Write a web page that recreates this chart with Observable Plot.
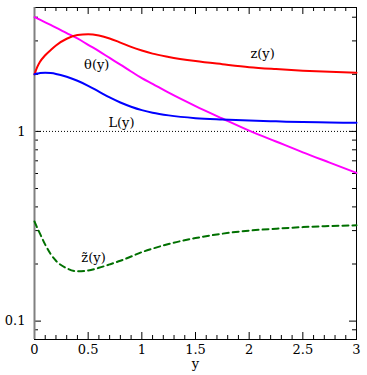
<!DOCTYPE html>
<html><head><meta charset="utf-8">
<script src="https://cdn.jsdelivr.net/npm/d3@7"></script>
<script src="https://cdn.jsdelivr.net/npm/@observablehq/plot@0.6"></script>
<style>body{margin:0;background:#fff}svg{display:block}</style>
</head><body><div id="chart"></div>
<script>
const xs     = [0, 0.025, 0.05, 0.1, 0.15, 0.2, 0.3, 0.4, 0.5, 0.6, 0.7, 0.8, 0.9, 1.0, 1.1, 1.25, 1.5, 1.75, 2.0, 2.25, 2.5, 2.75, 3.0];
const zVals  = [2.0, 2.18, 2.32, 2.52, 2.68, 2.84, 3.08, 3.22, 3.25, 3.2, 3.09, 2.94, 2.79, 2.67, 2.57, 2.47, 2.35, 2.26, 2.18, 2.13, 2.09, 2.06, 2.04];
const thVals = [4.0, 3.94, 3.88, 3.76, 3.64, 3.52, 3.30, 3.09, 2.86, 2.65, 2.44, 2.25, 2.07, 1.91, 1.78, 1.60, 1.36, 1.17, 1.01, 0.885, 0.776, 0.685, 0.605];
const LVals  = [2.0, 2.02, 2.03, 2.04, 2.03, 2.01, 1.94, 1.85, 1.74, 1.62, 1.51, 1.42, 1.35, 1.295, 1.255, 1.215, 1.175, 1.155, 1.14, 1.13, 1.12, 1.115, 1.11];
const ztVals = [0.335, 0.311, 0.29, 0.253, 0.226, 0.208, 0.19, 0.183, 0.185, 0.191, 0.199, 0.208, 0.219, 0.231, 0.241, 0.255, 0.274, 0.289, 0.3, 0.307, 0.313, 0.317, 0.32];

const xMajor = [0, 0.5, 1, 1.5, 2, 2.5, 3];
const xMinor = [0.1,0.2,0.3,0.4,0.6,0.7,0.8,0.9,1.1,1.2,1.3,1.4,1.6,1.7,1.8,1.9,2.1,2.2,2.3,2.4,2.6,2.7,2.8,2.9];
const xTickLabels = ["0", "0.5", "1", "1.5", "2", "2.5", "3"];
const yMajor = [0.1, 1];
const yMinor = [0.09, 0.2, 0.3, 0.4, 0.5, 0.6, 0.7, 0.8, 0.9, 2, 3, 4];
const yTickLabels = ["0.1", "1"];
const xLabel = "y";

const labels = [
  {x: 0.58, y: 2.24, text: "θ(y)"},
  {x: 0.81, y: 1.11, text: "L(y)"},
  {x: 2.125, y: 2.56, text: "z(y)"},
  {x: 0.55, y: 0.216, text: "z\u0303(y)"}
];

const mk = vals => xs.map((x, i) => ({x, y: vals[i]}));

const W = 367, H = 375, ML = 34, MR = 11, MT = 7, MB = 36;
const PW = W - ML - MR, PH = H - MT - MB;
const major = 7, minor = 4;
const font = "DejaVu Serif";

const line = (vals, opts) => Plot.line(mk(vals), {x: "x", y: "y", curve: "monotone-x", strokeWidth: 2, ...opts});

const chart = Plot.plot({
  width: W, height: H,
  marginLeft: ML, marginRight: MR, marginTop: MT, marginBottom: MB,
  style: {fontFamily: font, fontSize: "13px", background: "#fff", color: "#000"},
  x: {domain: [0, 3], axis: null},
  y: {type: "log", domain: [0.08, 4.5], axis: null},
  marks: [
    Plot.ruleY([1], {stroke: "#000", strokeWidth: 1, strokeDasharray: "1,2"}),
    Plot.tickX(xMajor, {x: d => d, insetTop: PH - major, stroke: "#000"}),
    Plot.tickX(xMinor, {x: d => d, insetTop: PH - minor, stroke: "#000"}),
    Plot.tickX(xMajor, {x: d => d, insetBottom: PH - major, stroke: "#000"}),
    Plot.tickX(xMinor, {x: d => d, insetBottom: PH - minor, stroke: "#000"}),
    Plot.tickY(yMajor, {y: d => d, insetRight: PW - major, stroke: "#000"}),
    Plot.tickY(yMinor, {y: d => d, insetRight: PW - minor, stroke: "#000"}),
    Plot.tickY(yMajor, {y: d => d, insetLeft: PW - major, stroke: "#000"}),
    Plot.tickY(yMinor, {y: d => d, insetLeft: PW - minor, stroke: "#000"}),
    Plot.frame({stroke: "#000"}),
    Plot.ruleX([0], {stroke: "#808080", strokeWidth: 2}),
    Plot.text(xMajor, {x: d => d, text: (d, i) => xTickLabels[i], frameAnchor: "bottom", dy: 10, lineAnchor: "middle", fontSize: 13}),
    Plot.text(yMajor, {y: d => d, text: (d, i) => yTickLabels[i], frameAnchor: "left", dx: -9, textAnchor: "end", lineAnchor: "middle", fontSize: 13}),
    Plot.text([xLabel], {frameAnchor: "bottom", dy: 24, text: d => d, fontSize: 13, lineAnchor: "middle"}),
    line(thVals, {stroke: "#ff00ff"}),
    line(zVals, {stroke: "#ff0000"}),
    line(LVals, {stroke: "#0000ff"}),
    line(ztVals, {stroke: "#007000", strokeDasharray: "6,4"}),
    Plot.text(labels, {x: "x", y: "y", text: "text", fontSize: 13, fill: "#000"})
  ]
});
document.getElementById("chart").appendChild(chart);
</script>
</body></html>
